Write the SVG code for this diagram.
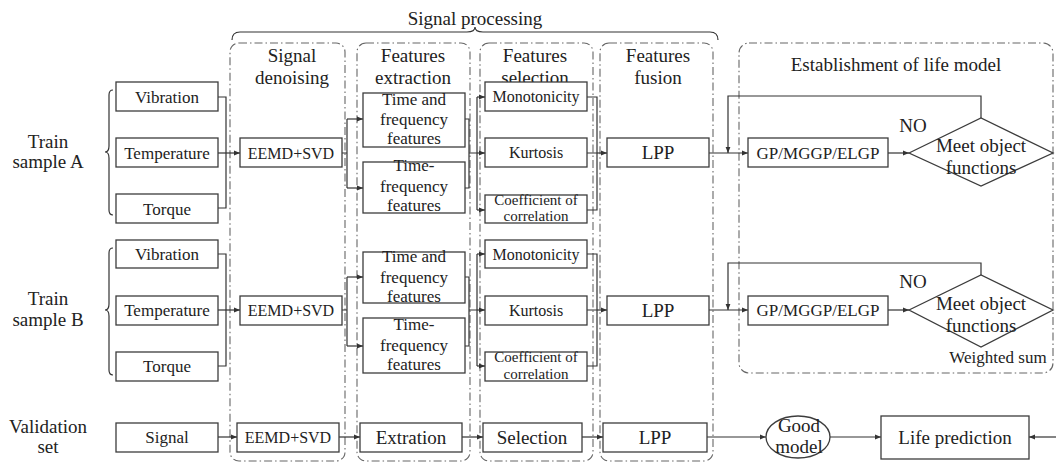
<svg xmlns="http://www.w3.org/2000/svg" width="1056" height="462" viewBox="0 0 1056 462" font-family="'Liberation Serif', 'Times New Roman', Tinos, 'DejaVu Serif', serif">
  <style>
    text { font-family: 'Liberation Serif', 'Times New Roman', Tinos, 'DejaVu Serif', serif; fill: #222; text-anchor: middle; }
    .t19 { font-size: 19px; }
    .t17 { font-size: 17px; }
    .t16 { font-size: 16px; }
    .t15 { font-size: 15px; }
    .box { fill: #fff; stroke: #3c3c3c; stroke-width: 1.3; }
    .col { fill: none; stroke: #666; stroke-width: 1.1; stroke-dasharray: 8 3 1.5 3; }
    .ln { fill: none; stroke: #333; stroke-width: 1.2; }
    .arr { fill: none; stroke: #333; stroke-width: 1.2; marker-end: url(#ah); }
  </style>
  <defs>
    <marker id="ah" viewBox="0 0 10 10" refX="10" refY="5" markerWidth="7" markerHeight="6" orient="auto" markerUnits="userSpaceOnUse">
      <path d="M0,1 L10,5 L0,9 z" fill="#333"/>
    </marker>
  </defs>
  <rect width="1056" height="462" fill="#fff"/>

  <!-- stage frames -->
  <g id="stages">
    <rect class="col" x="230" y="43" width="115" height="418" rx="9"/>
    <rect class="col" x="357" y="43" width="113" height="418" rx="9"/>
    <rect class="col" x="480" y="43" width="113" height="418" rx="9"/>
    <rect class="col" x="600" y="43" width="113" height="418" rx="9"/>
    <rect class="col" x="739" y="43" width="314" height="330" rx="10"/>
  </g>

  <!-- braces -->
  <g id="signal-processing">
    <path class="ln" d="M232,40 Q232,32 240,32 L467,32 Q475,32 475,27 Q475,32 483,32 L710,32 Q718,32 718,40"/>
    <text class="t19" x="475" y="25">Signal processing</text>
  </g>

  <!-- stage headings -->
  <g id="headings">
    <text class="t19" x="292" y="62">Signal</text>
    <text class="t19" x="292" y="84">denoising</text>
    <text class="t19" x="413" y="62">Features</text>
    <text class="t19" x="413" y="84">extraction</text>
    <text class="t19" x="535" y="62">Features</text>
    <text class="t19" x="535" y="84">selection</text>
    <text class="t19" x="658" y="62">Features</text>
    <text class="t19" x="658" y="84">fusion</text>
    <text class="t19" x="896" y="71">Establishment of life model</text>
  </g>

  <!-- connectors -->
  <g id="connectors">
    <!-- sample A -->
    <path class="ln" d="M218,97 H226 V208 H218"/>
    <path class="arr" d="M218,153 H240"/>
    <path class="ln" d="M342,153 H347 M347,119 V188"/>
    <path class="arr" d="M347,119 H363"/>
    <path class="arr" d="M347,188 H363"/>
    <path class="ln" d="M465,119 H469 V188 H465 M469,153 H477 M477,97 V210"/>
    <path class="arr" d="M477,97 H485"/>
    <path class="arr" d="M477,153 H485"/>
    <path class="arr" d="M477,210 H485"/>
    <path class="ln" d="M587,97 H597 V210 H587 M587,153 H597"/>
    <path class="arr" d="M597,153 H607"/>
    <path class="arr" d="M709,153 H748"/>
    <path class="arr" d="M981,118 V96 H728 V153"/>
    <path class="arr" d="M888,153 H909"/>
    <!-- sample B -->
    <path class="ln" d="M218,254 H226 V366 H218"/>
    <path class="arr" d="M218,310 H240"/>
    <path class="ln" d="M342,310 H347 M347,277 V346"/>
    <path class="arr" d="M347,277 H363"/>
    <path class="arr" d="M347,346 H363"/>
    <path class="ln" d="M465,277 H469 V346 H465 M469,310 H477 M477,254 V366"/>
    <path class="arr" d="M477,254 H485"/>
    <path class="arr" d="M477,310 H485"/>
    <path class="arr" d="M477,366 H485"/>
    <path class="ln" d="M587,254 H597 V366 H587 M587,310 H597"/>
    <path class="arr" d="M597,310 H607"/>
    <path class="arr" d="M709,310 H748"/>
    <path class="arr" d="M981,275 V263 H728 V310"/>
    <path class="arr" d="M888,310 H909"/>
    <!-- validation -->
    <path class="arr" d="M218,437 H237"/>
    <path class="arr" d="M339,437 H360"/>
    <path class="arr" d="M462,437 H483"/>
    <path class="arr" d="M582,437 H603"/>
    <path class="arr" d="M707,437 H766"/>
    <path class="arr" d="M830,437 H881"/>
    <path class="arr" d="M1056,437 H1029"/>
  </g>

  <!-- row labels -->
  <g id="label-a">
    <path class="ln" d="M113,90 Q109,90 109,95 L109,146 Q109,152 105,152 Q109,152 109,158 L109,210 Q109,215 113,215"/>
    <text class="t19" x="48" y="148">Train</text>
    <text class="t19" x="48" y="168">sample A</text>
  </g>
  <g id="label-b">
    <path class="ln" d="M113,248 Q109,248 109,253 L109,304 Q109,310 105,310 Q109,310 109,316 L109,370 Q109,375 113,375"/>
    <text class="t19" x="48" y="305">Train</text>
    <text class="t19" x="48" y="326">sample B</text>
  </g>
  <g id="label-validation">
    <text class="t19" x="48" y="433">Validation</text>
    <text class="t19" x="48" y="453">set</text>
  </g>

  <!-- sample A nodes -->
  <g id="a-vibration"><rect class="box" x="116" y="82" width="102" height="29"/><text class="t17" x="167" y="103">Vibration</text></g>
  <g id="a-temperature"><rect class="box" x="116" y="138" width="102" height="29"/><text class="t17" x="167" y="159">Temperature</text></g>
  <g id="a-torque"><rect class="box" x="116" y="194" width="102" height="29"/><text class="t17" x="167" y="215">Torque</text></g>
  <g id="a-eemd"><rect class="box" x="240" y="138" width="102" height="29"/><text class="t16" x="291" y="159">EEMD+SVD</text></g>
  <g id="a-timefreq">
    <rect class="box" x="363" y="93" width="102" height="54"/>
    <text class="t17" x="414" y="105">Time and</text>
    <text class="t17" x="414" y="125">frequency</text>
    <text class="t17" x="414" y="144">features</text>
  </g>
  <g id="a-tf">
    <rect class="box" x="363" y="162" width="102" height="51"/>
    <text class="t17" x="414" y="171">Time-</text>
    <text class="t17" x="414" y="192">frequency</text>
    <text class="t17" x="414" y="211">features</text>
  </g>
  <g id="a-monotonicity"><rect class="box" x="485" y="82" width="102" height="29"/><text class="t16" x="536" y="102">Monotonicity</text></g>
  <g id="a-kurtosis"><rect class="box" x="485" y="138" width="102" height="29"/><text class="t16" x="536" y="158">Kurtosis</text></g>
  <g id="a-correlation">
    <rect class="box" x="485" y="195" width="102" height="28"/>
    <text class="t15" x="536" y="205">Coefficient of</text>
    <text class="t15" x="536" y="221">correlation</text>
  </g>
  <g id="a-lpp"><rect class="box" x="607" y="138" width="102" height="29"/><text class="t19" x="658" y="159">LPP</text></g>
  <g id="a-gp"><rect class="box" x="748" y="138" width="140" height="29"/><text class="t17" x="818" y="159">GP/MGGP/ELGP</text></g>
  <g id="a-check">
    <polygon class="box" points="909,153 981,118 1053,153 981,186" fill="none"/>
    <text class="t19" x="981" y="152">Meet object</text>
    <text class="t19" x="981" y="174">functions</text>
    <text class="t19" x="913" y="132">NO</text>
  </g>

  <!-- sample B nodes -->
  <g id="b-vibration"><rect class="box" x="116" y="240" width="102" height="28"/><text class="t17" x="167" y="260">Vibration</text></g>
  <g id="b-temperature"><rect class="box" x="116" y="296" width="102" height="29"/><text class="t17" x="167" y="316">Temperature</text></g>
  <g id="b-torque"><rect class="box" x="116" y="352" width="102" height="29"/><text class="t17" x="167" y="372">Torque</text></g>
  <g id="b-eemd"><rect class="box" x="240" y="296" width="102" height="29"/><text class="t16" x="291" y="316">EEMD+SVD</text></g>
  <g id="b-timefreq">
    <rect class="box" x="363" y="252" width="102" height="51"/>
    <text class="t17" x="414" y="262">Time and</text>
    <text class="t17" x="414" y="283">frequency</text>
    <text class="t17" x="414" y="302">features</text>
  </g>
  <g id="b-tf">
    <rect class="box" x="363" y="318" width="102" height="55"/>
    <text class="t17" x="414" y="330">Time-</text>
    <text class="t17" x="414" y="351">frequency</text>
    <text class="t17" x="414" y="370">features</text>
  </g>
  <g id="b-monotonicity"><rect class="box" x="485" y="240" width="102" height="28"/><text class="t16" x="536" y="260">Monotonicity</text></g>
  <g id="b-kurtosis"><rect class="box" x="485" y="296" width="102" height="29"/><text class="t16" x="536" y="316">Kurtosis</text></g>
  <g id="b-correlation">
    <rect class="box" x="485" y="352" width="102" height="29"/>
    <text class="t15" x="536" y="362">Coefficient of</text>
    <text class="t15" x="536" y="379">correlation</text>
  </g>
  <g id="b-lpp"><rect class="box" x="607" y="296" width="102" height="29"/><text class="t19" x="658" y="317">LPP</text></g>
  <g id="b-gp"><rect class="box" x="748" y="296" width="140" height="29"/><text class="t17" x="818" y="316">GP/MGGP/ELGP</text></g>
  <g id="b-check">
    <polygon class="box" points="909,310 981,275 1053,310 981,347" fill="none"/>
    <text class="t19" x="981" y="310">Meet object</text>
    <text class="t19" x="981" y="332">functions</text>
    <text class="t19" x="913" y="288">NO</text>
  </g>
  <g id="weighted-sum"><text class="t17" x="998" y="363">Weighted sum</text></g>

  <!-- validation nodes -->
  <g id="v-signal"><rect class="box" x="116" y="423" width="102" height="29"/><text class="t17" x="167" y="443">Signal</text></g>
  <g id="v-eemd"><rect class="box" x="237" y="423" width="102" height="29"/><text class="t16" x="288" y="443">EEMD+SVD</text></g>
  <g id="v-extraction"><rect class="box" x="360" y="423" width="102" height="29"/><text class="t19" x="411" y="444">Extration</text></g>
  <g id="v-selection"><rect class="box" x="483" y="423" width="99" height="29"/><text class="t19" x="532" y="444">Selection</text></g>
  <g id="v-lpp"><rect class="box" x="603" y="423" width="104" height="29"/><text class="t19" x="655" y="444">LPP</text></g>
  <g id="v-good-model">
    <ellipse class="box" cx="798" cy="437" rx="32" ry="21"/>
    <text class="t19" x="799" y="432">Good</text>
    <text class="t19" x="799" y="453">model</text>
  </g>
  <g id="v-life-prediction"><rect class="box" x="881" y="416" width="148" height="43"/><text class="t19" x="955" y="444">Life prediction</text></g>
</svg>
